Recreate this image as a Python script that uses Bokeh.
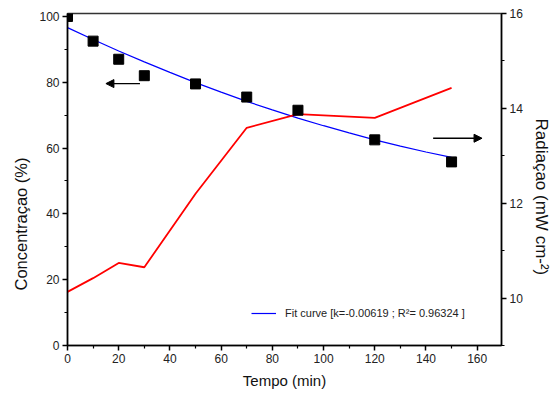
from bokeh.plotting import figure
from bokeh.models import (Range1d, LinearAxis, Legend, LegendItem, Arrow, NormalHead,
                          FixedTicker, Title)
from bokeh.embed import file_html
from bokeh.resources import INLINE

# data
t_points = [0, 10, 20, 30, 50, 70, 90, 120, 150]
conc_points = [100, 92.5, 87.0, 82.0, 79.5, 75.5, 71.5, 62.5, 55.8]
t_fit = [0, 10, 20, 30, 40, 50, 60, 70, 80, 90, 100, 110, 120, 130, 140, 150]
conc_fit = [96.6, 93.0, 89.5, 86.2, 83.0, 79.9, 77.0, 74.2, 71.6, 69.1, 66.8, 64.6, 62.5, 60.6, 58.8, 57.2]
t_rad = [0, 10, 20, 30, 50, 70, 90, 120, 150]
radiation = [10.13, 10.42, 10.74, 10.65, 12.2, 13.59, 13.88, 13.80, 14.43]
legend_label = "Fit curve [k=-0.00619 ; R\u00b2= 0.96324 ]"
x_label = "Tempo (min)"
y_label = "Concentraçao (%)"
y2_label = "Radiaçao (mW cm-²)"
x_ticks = [0, 20, 40, 60, 80, 100, 120, 140, 160]
y_ticks = [0, 20, 40, 60, 80, 100]
y2_ticks = [10, 12, 14, 16]
# arrow annotations (data coords)
left_arrow = dict(x_start=28.3, x_end=15.0, y=79.6)
right_arrow = dict(x_start=142.8, x_end=161.9, y=13.37)

FONT = "Liberation Sans"

p = figure(width=558, height=401, output_backend="svg", toolbar_location=None,
           x_range=Range1d(0, 169.5), y_range=Range1d(0, 100.9),
           min_border_left=67, min_border_right=57, min_border_top=13, min_border_bottom=56)
p.extra_y_ranges = {"rad": Range1d(9, 16)}
p.grid.visible = False
p.outline_line_color = "#333333"
p.outline_line_width = 1.5
p.background_fill_color = "white"
p.border_fill_color = "white"

fit = p.line(t_fit, conc_fit, line_color="#0000ff", line_width=1.2)
p.line(t_rad, radiation, line_color="#ff0000", line_width=1.8, y_range_name="rad")
p.scatter(t_points, conc_points, marker="square", size=10, fill_color="black", line_color="black")

yaxis2 = LinearAxis(y_range_name="rad")
p.add_layout(yaxis2, "right")

p.xaxis.axis_label = x_label
p.xaxis.ticker = FixedTicker(ticks=x_ticks, minor_ticks=[v + 10 for v in x_ticks])
p.yaxis[0].ticker = FixedTicker(ticks=y_ticks, minor_ticks=[v + 10 for v in y_ticks])
yaxis2.ticker = FixedTicker(ticks=y2_ticks, minor_ticks=[9, 11, 13, 15])

for ax in [p.xaxis[0], p.yaxis[0], yaxis2]:
    ax.axis_line_color = "black"
    ax.axis_line_width = 1.5
    ax.major_tick_line_color = "black"
    ax.major_tick_line_width = 1.5
    ax.minor_tick_line_color = "black"
    ax.minor_tick_line_width = 1.2
    ax.major_tick_out = 5
    ax.major_tick_in = 0
    ax.minor_tick_out = 3
    ax.minor_tick_in = 0
    ax.major_label_text_font = FONT
    ax.major_label_text_font_size = "12px"
    ax.major_label_text_color = "#222222"
    ax.axis_label_text_font = FONT
    ax.axis_label_text_font_size = "15px"
    ax.axis_label_text_font_style = "normal"
    ax.axis_label_text_color = "#111111"
    ax.major_label_standoff = 3

p.xaxis.axis_label_standoff = 6

# rotated axis titles placed like the reference (offset from centre)
p.add_layout(Title(text=y_label, align="left", offset=55, text_font=FONT,
                   text_font_size="16.5px", text_font_style="normal",
                   text_color="#111111", standoff=13), "left")
p.add_layout(Title(text=y2_label, align="left", offset=105, text_font=FONT,
                   text_font_size="17px", text_font_style="normal",
                   text_color="#111111", standoff=12), "right")

legend = Legend(items=[LegendItem(label=legend_label, renderers=[fit])],
                location=(184, 22), border_line_color=None, background_fill_alpha=0,
                padding=0, margin=0, label_text_font=FONT, label_text_font_size="11px",
                label_text_color="#222222", glyph_width=25, label_standoff=9)
p.add_layout(legend, "center")

for a, rng in [(left_arrow, "default"), (right_arrow, "rad")]:
    p.add_layout(Arrow(x_start=a["x_start"], x_end=a["x_end"], y_start=a["y"], y_end=a["y"],
                       line_color="black", line_width=1.3, y_range_name=rng,
                       end=NormalHead(size=8, fill_color="black", line_color="black")))

open("out.html", "w").write(file_html(p, INLINE))
